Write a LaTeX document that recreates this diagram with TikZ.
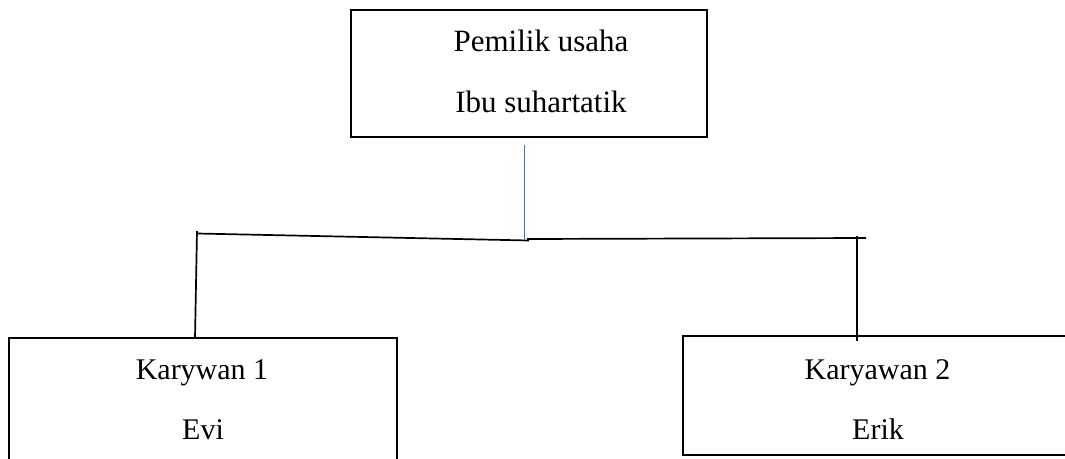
\documentclass[tikz,border=0pt]{standalone}
\usepackage{fontspec}
\setmainfont{Liberation Serif}
\definecolor{wordblue}{RGB}{68,114,196}
\begin{document}
\begin{tikzpicture}[x=1pt,y=-1pt,
  box/.style={draw=black, line width=1.8pt, rectangle, inner sep=0pt},
  lbl/.style={anchor=base, inner sep=0pt, font=\fontsize{30}{36}\selectfont},
  toplbl/.style={lbl, font=\fontsize{31}{37}\selectfont},
  conn/.style={draw=black, line width=1.7pt},
  blueconn/.style={draw=wordblue, line width=1.8pt}]
\clip (0,0) rectangle (1065,458);
\fill[white] (0,0) rectangle (1065,458);
% boxes
\node[box, minimum width=356pt, minimum height=127pt] (owner) at (529,73.5) {};
\node[box, minimum width=388pt, minimum height=160pt] (emp1) at (203,418) {};
\node[box, minimum width=388pt, minimum height=119pt] (emp2) at (877,395.5) {};
% texts
\node[toplbl] (ownerrole) at (541,51) {Pemilik usaha};
\node[toplbl] (ownername) at (541,112) {Ibu suhartatik};
\node[lbl] (emp1role) at (202,379) {Karywan 1};
\node[lbl] (emp1name) at (203,439) {Evi};
\node[lbl] (emp2role) at (877.5,379) {Karyawan 2};
\node[lbl] (emp2name) at (878,439) {Erik};
% connector points
\coordinate (ownerdrop) at (524.5,145);
\coordinate (junction) at (524.5,240);
\coordinate (junctionl) at (529,240.5);
\coordinate (junctionr) at (527,239);
\coordinate (leftend) at (197,233.5);
\coordinate (lefttop) at (197,231);
\coordinate (leftfoot) at (195,338);
\coordinate (rightend) at (866,238);
\coordinate (righttop) at (857,236);
\coordinate (rightfoot) at (857,341);
% connectors
\draw[conn] (leftend) -- (junctionl);
\draw[conn] (junctionr) -- (rightend);
\draw[conn] (lefttop) -- (leftfoot);
\draw[conn] (righttop) -- (rightfoot);
\draw[blueconn] (ownerdrop) -- (junction);
\end{tikzpicture}
\end{document}
